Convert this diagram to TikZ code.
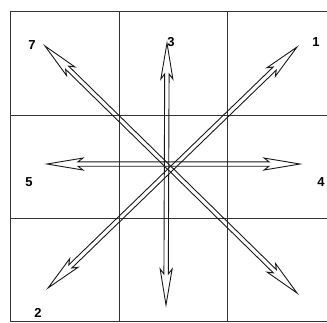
\documentclass[tikz,border=0pt]{standalone}
\usepackage{fontspec}
\setmainfont{Liberation Sans}
\usetikzlibrary{calc}
\tikzset{
  gridline/.style={draw=black!80, line width=1pt},
  arrowline/.style={draw=black!90, line width=0.9pt, line join=miter, fill=none},
  lab/.style={font=\fontsize{13}{13}\selectfont\bfseries, inner sep=0pt}
}
% two-headed hollow arrow from #1 to #2
\newcommand\twohead[2]{%
  \coordinate (sA) at ($(#1)!31pt!(#2)$);
  \coordinate (bA) at ($(#1)!36pt!(#2)$);
  \coordinate (sB) at ($(#2)!31pt!(#1)$);
  \coordinate (bB) at ($(#2)!36pt!(#1)$);
  \draw[arrowline] (#1)
    -- ($(bA)!6pt!90:(#2)$) -- ($(sA)!2.2pt!90:(#2)$)
    -- ($(sB)!2.2pt!-90:(#1)$) -- ($(bB)!6pt!-90:(#1)$)
    -- (#2)
    -- ($(bB)!6pt!90:(#1)$) -- ($(sB)!2.2pt!90:(#1)$)
    -- ($(sA)!2.2pt!-90:(#2)$) -- ($(bA)!6pt!-90:(#2)$)
    -- cycle;
}
\begin{document}
\begin{tikzpicture}[x=1pt,y=-1pt]
  \useasboundingbox (0,0) rectangle (327,322);
  \clip (0,0) rectangle (327,322);
  % grid
  \draw[gridline] (340,11) -- (10,11) -- (10,321) -- (340,321);
  \draw[gridline] (10,115) -- (340,115);
  \draw[gridline] (10,218) -- (340,218);
  \draw[gridline] (119,11) -- (119,321);
  \draw[gridline] (227,11) -- (227,321);
  % arrow tips
  \coordinate (t7) at (45,46);
  \coordinate (t8) at (297,293);
  \coordinate (t1) at (297,47);
  \coordinate (t2) at (48,288);
  \coordinate (t3) at (167,43);
  \coordinate (t6) at (166,305);
  \coordinate (t5) at (47,164);
  \coordinate (t4) at (300,164);
  \twohead{t7}{t8}
  \twohead{t1}{t2}
  \twohead{t3}{t6}
  \twohead{t5}{t4}
  % labels
  \node[lab] (l7) at (32,45) {7};
  \node[lab] (l3) at (171,42) {3};
  \node[lab] (l1) at (316,42) {1};
  \node[lab] (l5) at (29,182) {5};
  \node[lab] (l4) at (321,182) {4};
  \node[lab] (l2) at (38,313) {2};
\end{tikzpicture}
\end{document}
